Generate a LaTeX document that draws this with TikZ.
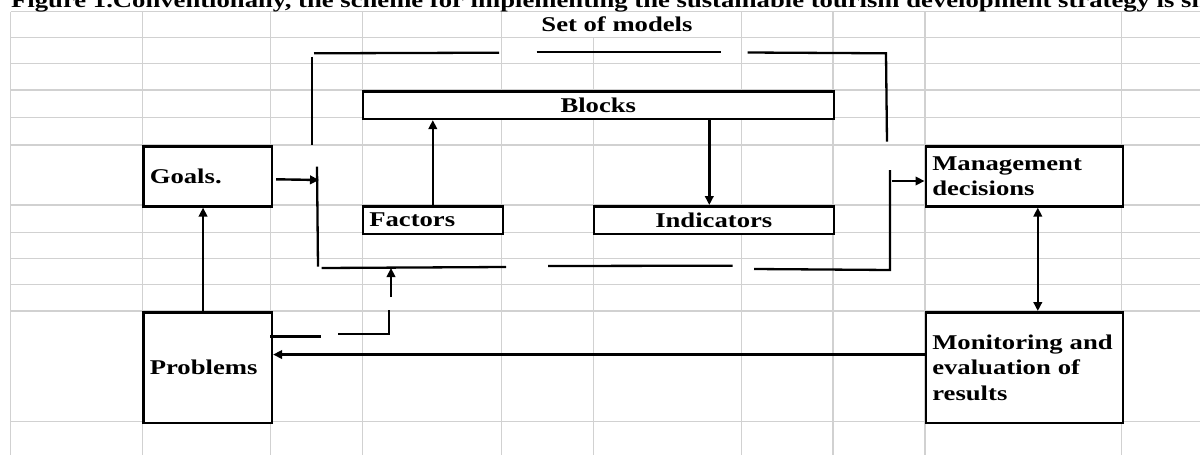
\documentclass[tikz,border=0pt]{standalone}
\usepackage{fontspec}
\newfontfamily\sheetfont{Liberation Serif}[FakeStretch=1.27]
\usetikzlibrary{positioning, arrows.meta}

\begin{document}
\begin{tikzpicture}[
    x=1pt, y=-1pt,
    cell/.style={
        rectangle,
        draw,
        fill=white,
        line width=2.6pt,
        anchor=north west,
        inner xsep=6.5pt,
        inner ysep=0pt,
        align=left,
        font=\sheetfont\bfseries\fontsize{21pt}{25.5pt}\selectfont
    },
    bar/.style={
        cell,
        align=center
    },
    plain/.style={
        inner sep=0pt,
        font=\sheetfont\bfseries\fontsize{21pt}{25.5pt}\selectfont
    },
    gridline/.style={
        draw=black!18,
        line width=1.1pt
    },
    framepart/.style={
        line width=2.3pt
    },
    arrow/.style={
        line width=2.4pt,
        -{Triangle[length=9pt,width=8.5pt]}
    }
]
\useasboundingbox (0,0) rectangle (1200,455);
\clip (0,0) rectangle (1200,455);

% Sheet grid
\foreach \gx in {10.7,142.7,270.7,362.7,501.7,741.7,833,925,1121.7}
    \draw[gridline] (\gx,11.7) -- (\gx,455);
\draw[gridline] (593.3,37.3) -- (593.3,455);
\foreach \gy in {11.7,37.3,63.3,90,117.3,145,205,232.3,258.3,284.3,311,421.7}
    \draw[gridline] (10.7,\gy) -- (1200,\gy);

% Headings
\node[plain, anchor=base west] (title) at (11,7.5)
  {Figure 1.Conventionally, the scheme for implementing the sustainable tourism development strategy is sh};
\node[plain, anchor=base] (models) at (617,31.7) {Set of models};

% Outer boxes
\node[cell, text width=115.5pt, minimum height=60pt] (goals) at (142,145) {Goals.};
\node[cell, text width=115.5pt, minimum height=110.5pt] (problems) at (142,311) {Problems};
\node[cell, text width=184pt, minimum height=60pt] (mgmt) at (924.5,145) {Management\\decisions};
\node[cell, text width=184pt, minimum height=110.5pt] (monitor) at (924.5,311) {Monitoring and\\evaluation of\\results};

% Inside the set of models
\node[bar, text width=458pt, minimum height=27.5pt] (blocks) at (361.5,90) {Blocks};
\node[cell, text width=127pt, minimum height=27.5pt] (factors) at (361.5,205) {Factors};
\node[bar, text width=227pt, minimum height=27.5pt] (indicators) at (592.5,205) {Indicators};

% Broken frame
\draw[framepart] (314,53.3) -- (499,52.7);
\draw[framepart] (536.7,52) -- (721,52);
\draw[framepart] (747.7,52.5) -- (886,53.3) -- (887,141.7);
\draw[framepart] (311.7,56.7) -- (311.7,145);
\draw[framepart] (317,166.7) -- (318,266.7);
\draw[framepart] (321.7,268) -- (506,267);
\draw[framepart] (548,266) -- (732.7,265.7);
\draw[framepart] (754,269) -- (890,270) -- (890,170);

\coordinate (framein) at (319,180);
\coordinate (frameout) at (891.7,181);
\coordinate (framebase) at (391,268);

% Arrows
\draw[arrow] ([xshift=3pt,yshift=-3pt]goals.east) -- (framein);
\draw[arrow] (frameout) -- (frameout -| mgmt.west);
\draw[arrow] (factors.north) -- (factors.north |- blocks.south);
\draw[arrow] ([xshift=-4.5pt]indicators.north |- blocks.south) -- ([xshift=-4.5pt]indicators.north);
\draw[arrow] ([xshift=-4.5pt]problems.north) -- ([xshift=-4.5pt]goals.south);
\draw[line width=2.4pt, {Triangle[length=9pt,width=8.5pt]}-{Triangle[length=9pt,width=8.5pt]}]
  ([xshift=13.5pt]mgmt.south) -- ([xshift=13.5pt]monitor.north);
\draw[arrow] ([yshift=13pt]monitor.west) -- ([yshift=13pt]problems.east);

% Problems back into the set of models
\draw[framepart] ([xshift=-3pt,yshift=31pt]problems.east) -- ++(51,0);
\draw[framepart] (338,334) -- (389,334) -- (389,310);
\draw[arrow] (391,297) -- (framebase);

\end{tikzpicture}
\end{document}
